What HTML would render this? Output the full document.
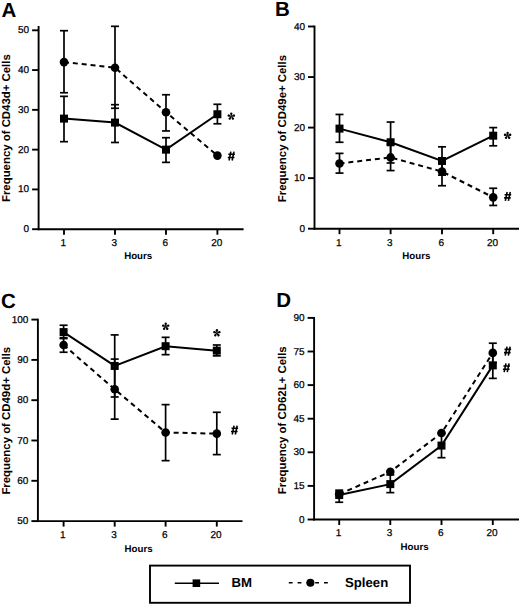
<!DOCTYPE html>
<html><head><meta charset="utf-8"><style>
html,body{margin:0;padding:0;background:#fff;}
svg{display:block;}
text{font-family:"Liberation Sans", sans-serif;fill:#000;text-rendering:geometricPrecision;}
</style></head><body>
<svg width="520" height="605" viewBox="0 0 520 605">
<defs>
<g id="armg"><path d="M-0.35 -0.3 L-1.2 -2.7 A1.2 1.2 0 0 1 1.2 -2.7 L0.35 -0.3 Z"/></g>
<g id="ast" fill="#000"><use href="#armg"/><use href="#armg" transform="rotate(72)"/><use href="#armg" transform="rotate(144)"/><use href="#armg" transform="rotate(216)"/><use href="#armg" transform="rotate(288)"/><circle r="0.5"/></g>
<g id="hash" stroke="#000" stroke-width="1.6" fill="none"><path d="M-0.45 -4.3 L-2.25 4.6 M2.65 -4.3 L0.85 4.6 M-3.0 -1.6 L3.6 -1.6 M-3.5 1.6 L3.1 1.6"/></g>
</defs>
<rect width="520" height="605" fill="#fff"/>
<text x="1.4" y="16.6" font-size="20.5" font-weight="bold">A</text>
<line x1="38.6" y1="26" x2="38.6" y2="230.14999999999998" stroke="#000" stroke-width="1.9"/>
<line x1="37.65" y1="229.2" x2="243.6" y2="229.2" stroke="#000" stroke-width="1.9"/>
<line x1="32.1" y1="229.20" x2="38.6" y2="229.20" stroke="#000" stroke-width="1.9"/>
<text x="29.1" y="232.20" font-size="10" text-anchor="end" stroke="#000" stroke-width="0.25">0</text>
<line x1="32.1" y1="189.42" x2="38.6" y2="189.42" stroke="#000" stroke-width="1.9"/>
<text x="29.1" y="192.42" font-size="10" text-anchor="end" stroke="#000" stroke-width="0.25">10</text>
<line x1="32.1" y1="149.64" x2="38.6" y2="149.64" stroke="#000" stroke-width="1.9"/>
<text x="29.1" y="152.64" font-size="10" text-anchor="end" stroke="#000" stroke-width="0.25">20</text>
<line x1="32.1" y1="109.86" x2="38.6" y2="109.86" stroke="#000" stroke-width="1.9"/>
<text x="29.1" y="112.86" font-size="10" text-anchor="end" stroke="#000" stroke-width="0.25">30</text>
<line x1="32.1" y1="70.08" x2="38.6" y2="70.08" stroke="#000" stroke-width="1.9"/>
<text x="29.1" y="73.08" font-size="10" text-anchor="end" stroke="#000" stroke-width="0.25">40</text>
<line x1="32.1" y1="30.30" x2="38.6" y2="30.30" stroke="#000" stroke-width="1.9"/>
<text x="29.1" y="33.30" font-size="10" text-anchor="end" stroke="#000" stroke-width="0.25">50</text>
<line x1="64" y1="229.2" x2="64" y2="234.7" stroke="#000" stroke-width="1.9"/>
<text x="63.3" y="246.0" font-size="10" text-anchor="middle" stroke="#000" stroke-width="0.25">1</text>
<line x1="115" y1="229.2" x2="115" y2="234.7" stroke="#000" stroke-width="1.9"/>
<text x="114.3" y="246.0" font-size="10" text-anchor="middle" stroke="#000" stroke-width="0.25">3</text>
<line x1="166" y1="229.2" x2="166" y2="234.7" stroke="#000" stroke-width="1.9"/>
<text x="165.3" y="246.0" font-size="10" text-anchor="middle" stroke="#000" stroke-width="0.25">6</text>
<line x1="217.4" y1="229.2" x2="217.4" y2="234.7" stroke="#000" stroke-width="1.9"/>
<text x="216.70000000000002" y="246.0" font-size="10" text-anchor="middle" stroke="#000" stroke-width="0.25">20</text>
<text x="138.2" y="259.1" font-size="9.7" font-weight="bold" text-anchor="middle">Hours</text>
<text transform="translate(9.9,128.15) rotate(-90)" font-size="11.4" font-weight="bold" text-anchor="middle">Frequency of CD43d+ Cells</text>
<polyline points="64.00,118.61 115.00,122.59 166.00,149.64 217.40,114.24" fill="none" stroke="#000" stroke-width="2.0"/>
<polyline points="64.00,62.12 115.00,67.69 166.00,112.25 217.40,155.61" fill="none" stroke="#000" stroke-width="2.0" stroke-dasharray="5,3.9"/>
<line x1="64" y1="96.33" x2="64" y2="141.68" stroke="#000" stroke-width="1.7"/>
<line x1="60.0" y1="96.33" x2="68.0" y2="96.33" stroke="#000" stroke-width="1.7"/>
<line x1="60.0" y1="141.68" x2="68.0" y2="141.68" stroke="#000" stroke-width="1.7"/>
<line x1="115" y1="104.69" x2="115" y2="142.48" stroke="#000" stroke-width="1.7"/>
<line x1="111.0" y1="104.69" x2="119.0" y2="104.69" stroke="#000" stroke-width="1.7"/>
<line x1="111.0" y1="142.48" x2="119.0" y2="142.48" stroke="#000" stroke-width="1.7"/>
<line x1="166" y1="137.71" x2="166" y2="162.37" stroke="#000" stroke-width="1.7"/>
<line x1="162.0" y1="137.71" x2="170.0" y2="137.71" stroke="#000" stroke-width="1.7"/>
<line x1="162.0" y1="162.37" x2="170.0" y2="162.37" stroke="#000" stroke-width="1.7"/>
<line x1="217.4" y1="104.29" x2="217.4" y2="123.78" stroke="#000" stroke-width="1.7"/>
<line x1="213.4" y1="104.29" x2="221.4" y2="104.29" stroke="#000" stroke-width="1.7"/>
<line x1="213.4" y1="123.78" x2="221.4" y2="123.78" stroke="#000" stroke-width="1.7"/>
<line x1="64" y1="30.70" x2="64" y2="92.75" stroke="#000" stroke-width="1.7"/>
<line x1="60.0" y1="30.70" x2="68.0" y2="30.70" stroke="#000" stroke-width="1.7"/>
<line x1="60.0" y1="92.75" x2="68.0" y2="92.75" stroke="#000" stroke-width="1.7"/>
<line x1="115" y1="26.32" x2="115" y2="108.27" stroke="#000" stroke-width="1.7"/>
<line x1="111.0" y1="26.32" x2="119.0" y2="26.32" stroke="#000" stroke-width="1.7"/>
<line x1="111.0" y1="108.27" x2="119.0" y2="108.27" stroke="#000" stroke-width="1.7"/>
<line x1="166" y1="94.74" x2="166" y2="130.94" stroke="#000" stroke-width="1.7"/>
<line x1="162.0" y1="94.74" x2="170.0" y2="94.74" stroke="#000" stroke-width="1.7"/>
<line x1="162.0" y1="130.94" x2="170.0" y2="130.94" stroke="#000" stroke-width="1.7"/>
<rect x="60.00" y="114.61" width="8.0" height="8.0" fill="#000"/>
<rect x="111.00" y="118.59" width="8.0" height="8.0" fill="#000"/>
<rect x="162.00" y="145.64" width="8.0" height="8.0" fill="#000"/>
<rect x="213.40" y="110.24" width="8.0" height="8.0" fill="#000"/>
<circle cx="64" cy="62.12" r="4.3" fill="#000"/>
<circle cx="115" cy="67.69" r="4.3" fill="#000"/>
<circle cx="166" cy="112.25" r="4.3" fill="#000"/>
<circle cx="217.4" cy="155.61" r="4.3" fill="#000"/>
<use href="#ast" x="231.3" y="116.4"/>
<use href="#hash" x="231.3" y="155.9"/>
<text x="275.1" y="15.8" font-size="20.5" font-weight="bold">B</text>
<line x1="314.5" y1="25.6" x2="314.5" y2="229.64999999999998" stroke="#000" stroke-width="1.9"/>
<line x1="313.55" y1="228.7" x2="519" y2="228.7" stroke="#000" stroke-width="1.9"/>
<line x1="308.0" y1="228.70" x2="314.5" y2="228.70" stroke="#000" stroke-width="1.9"/>
<text x="305.0" y="231.70" font-size="10" text-anchor="end" stroke="#000" stroke-width="0.25">0</text>
<line x1="308.0" y1="178.15" x2="314.5" y2="178.15" stroke="#000" stroke-width="1.9"/>
<text x="305.0" y="181.15" font-size="10" text-anchor="end" stroke="#000" stroke-width="0.25">10</text>
<line x1="308.0" y1="127.60" x2="314.5" y2="127.60" stroke="#000" stroke-width="1.9"/>
<text x="305.0" y="130.60" font-size="10" text-anchor="end" stroke="#000" stroke-width="0.25">20</text>
<line x1="308.0" y1="77.05" x2="314.5" y2="77.05" stroke="#000" stroke-width="1.9"/>
<text x="305.0" y="80.05" font-size="10" text-anchor="end" stroke="#000" stroke-width="0.25">30</text>
<line x1="308.0" y1="26.50" x2="314.5" y2="26.50" stroke="#000" stroke-width="1.9"/>
<text x="305.0" y="29.50" font-size="10" text-anchor="end" stroke="#000" stroke-width="0.25">40</text>
<line x1="339.5" y1="228.7" x2="339.5" y2="234.2" stroke="#000" stroke-width="1.9"/>
<text x="338.8" y="245.5" font-size="10" text-anchor="middle" stroke="#000" stroke-width="0.25">1</text>
<line x1="390.6" y1="228.7" x2="390.6" y2="234.2" stroke="#000" stroke-width="1.9"/>
<text x="389.90000000000003" y="245.5" font-size="10" text-anchor="middle" stroke="#000" stroke-width="0.25">3</text>
<line x1="442" y1="228.7" x2="442" y2="234.2" stroke="#000" stroke-width="1.9"/>
<text x="441.3" y="245.5" font-size="10" text-anchor="middle" stroke="#000" stroke-width="0.25">6</text>
<line x1="493.2" y1="228.7" x2="493.2" y2="234.2" stroke="#000" stroke-width="1.9"/>
<text x="492.5" y="245.5" font-size="10" text-anchor="middle" stroke="#000" stroke-width="0.25">20</text>
<text x="416.3" y="258.9" font-size="9.7" font-weight="bold" text-anchor="middle">Hours</text>
<text transform="translate(286.4,128.55) rotate(-90)" font-size="11.4" font-weight="bold" text-anchor="middle">Frequency of CD49e+ Cells</text>
<polyline points="339.50,128.61 390.60,142.26 442.00,160.96 493.20,135.69" fill="none" stroke="#000" stroke-width="2.0"/>
<polyline points="339.50,163.49 390.60,157.42 442.00,171.58 493.20,197.36" fill="none" stroke="#000" stroke-width="2.0" stroke-dasharray="5,3.9"/>
<line x1="339.5" y1="114.46" x2="339.5" y2="142.26" stroke="#000" stroke-width="1.7"/>
<line x1="335.5" y1="114.46" x2="343.5" y2="114.46" stroke="#000" stroke-width="1.7"/>
<line x1="335.5" y1="142.26" x2="343.5" y2="142.26" stroke="#000" stroke-width="1.7"/>
<line x1="390.6" y1="122.04" x2="390.6" y2="162.98" stroke="#000" stroke-width="1.7"/>
<line x1="386.6" y1="122.04" x2="394.6" y2="122.04" stroke="#000" stroke-width="1.7"/>
<line x1="386.6" y1="162.98" x2="394.6" y2="162.98" stroke="#000" stroke-width="1.7"/>
<line x1="442" y1="146.81" x2="442" y2="175.12" stroke="#000" stroke-width="1.7"/>
<line x1="438.0" y1="146.81" x2="446.0" y2="146.81" stroke="#000" stroke-width="1.7"/>
<line x1="438.0" y1="175.12" x2="446.0" y2="175.12" stroke="#000" stroke-width="1.7"/>
<line x1="493.2" y1="127.60" x2="493.2" y2="145.80" stroke="#000" stroke-width="1.7"/>
<line x1="489.2" y1="127.60" x2="497.2" y2="127.60" stroke="#000" stroke-width="1.7"/>
<line x1="489.2" y1="145.80" x2="497.2" y2="145.80" stroke="#000" stroke-width="1.7"/>
<line x1="339.5" y1="153.38" x2="339.5" y2="173.09" stroke="#000" stroke-width="1.7"/>
<line x1="335.5" y1="153.38" x2="343.5" y2="153.38" stroke="#000" stroke-width="1.7"/>
<line x1="335.5" y1="173.09" x2="343.5" y2="173.09" stroke="#000" stroke-width="1.7"/>
<line x1="390.6" y1="144.28" x2="390.6" y2="170.57" stroke="#000" stroke-width="1.7"/>
<line x1="386.6" y1="144.28" x2="394.6" y2="144.28" stroke="#000" stroke-width="1.7"/>
<line x1="386.6" y1="170.57" x2="394.6" y2="170.57" stroke="#000" stroke-width="1.7"/>
<line x1="442" y1="157.93" x2="442" y2="185.73" stroke="#000" stroke-width="1.7"/>
<line x1="438.0" y1="157.93" x2="446.0" y2="157.93" stroke="#000" stroke-width="1.7"/>
<line x1="438.0" y1="185.73" x2="446.0" y2="185.73" stroke="#000" stroke-width="1.7"/>
<line x1="493.2" y1="188.26" x2="493.2" y2="205.45" stroke="#000" stroke-width="1.7"/>
<line x1="489.2" y1="188.26" x2="497.2" y2="188.26" stroke="#000" stroke-width="1.7"/>
<line x1="489.2" y1="205.45" x2="497.2" y2="205.45" stroke="#000" stroke-width="1.7"/>
<rect x="335.50" y="124.61" width="8.0" height="8.0" fill="#000"/>
<rect x="386.60" y="138.26" width="8.0" height="8.0" fill="#000"/>
<rect x="438.00" y="156.96" width="8.0" height="8.0" fill="#000"/>
<rect x="489.20" y="131.69" width="8.0" height="8.0" fill="#000"/>
<circle cx="339.5" cy="163.49" r="4.3" fill="#000"/>
<circle cx="390.6" cy="157.42" r="4.3" fill="#000"/>
<circle cx="442" cy="171.58" r="4.3" fill="#000"/>
<circle cx="493.2" cy="197.36" r="4.3" fill="#000"/>
<use href="#ast" x="507.6" y="135.6"/>
<use href="#hash" x="507.6" y="196.3"/>
<text x="1.0" y="307.8" font-size="20.5" font-weight="bold">C</text>
<line x1="37.9" y1="318.7" x2="37.9" y2="522.0500000000001" stroke="#000" stroke-width="1.9"/>
<line x1="36.949999999999996" y1="521.1" x2="242.5" y2="521.1" stroke="#000" stroke-width="1.9"/>
<line x1="31.4" y1="521.10" x2="37.9" y2="521.10" stroke="#000" stroke-width="1.9"/>
<text x="28.4" y="524.10" font-size="10" text-anchor="end" stroke="#000" stroke-width="0.25">50</text>
<line x1="31.4" y1="480.80" x2="37.9" y2="480.80" stroke="#000" stroke-width="1.9"/>
<text x="28.4" y="483.80" font-size="10" text-anchor="end" stroke="#000" stroke-width="0.25">60</text>
<line x1="31.4" y1="440.50" x2="37.9" y2="440.50" stroke="#000" stroke-width="1.9"/>
<text x="28.4" y="443.50" font-size="10" text-anchor="end" stroke="#000" stroke-width="0.25">70</text>
<line x1="31.4" y1="400.20" x2="37.9" y2="400.20" stroke="#000" stroke-width="1.9"/>
<text x="28.4" y="403.20" font-size="10" text-anchor="end" stroke="#000" stroke-width="0.25">80</text>
<line x1="31.4" y1="359.90" x2="37.9" y2="359.90" stroke="#000" stroke-width="1.9"/>
<text x="28.4" y="362.90" font-size="10" text-anchor="end" stroke="#000" stroke-width="0.25">90</text>
<line x1="31.4" y1="319.60" x2="37.9" y2="319.60" stroke="#000" stroke-width="1.9"/>
<text x="28.4" y="322.60" font-size="10" text-anchor="end" stroke="#000" stroke-width="0.25">100</text>
<line x1="63.6" y1="521.1" x2="63.6" y2="526.6" stroke="#000" stroke-width="1.9"/>
<text x="62.9" y="537.9" font-size="10" text-anchor="middle" stroke="#000" stroke-width="0.25">1</text>
<line x1="114.7" y1="521.1" x2="114.7" y2="526.6" stroke="#000" stroke-width="1.9"/>
<text x="114.0" y="537.9" font-size="10" text-anchor="middle" stroke="#000" stroke-width="0.25">3</text>
<line x1="165.6" y1="521.1" x2="165.6" y2="526.6" stroke="#000" stroke-width="1.9"/>
<text x="164.9" y="537.9" font-size="10" text-anchor="middle" stroke="#000" stroke-width="0.25">6</text>
<line x1="216.8" y1="521.1" x2="216.8" y2="526.6" stroke="#000" stroke-width="1.9"/>
<text x="216.10000000000002" y="537.9" font-size="10" text-anchor="middle" stroke="#000" stroke-width="0.25">20</text>
<text x="138.6" y="551.6" font-size="9.7" font-weight="bold" text-anchor="middle">Hours</text>
<text transform="translate(9.9,420.7) rotate(-90)" font-size="11.4" font-weight="bold" text-anchor="middle">Frequency of CD49d+ Cells</text>
<polyline points="63.60,332.09 114.70,365.95 165.60,346.20 216.80,350.63" fill="none" stroke="#000" stroke-width="2.0"/>
<polyline points="63.60,344.99 114.70,389.32 165.60,432.44 216.80,433.65" fill="none" stroke="#000" stroke-width="2.0" stroke-dasharray="5,3.9"/>
<line x1="63.6" y1="325.24" x2="63.6" y2="338.54" stroke="#000" stroke-width="1.7"/>
<line x1="59.6" y1="325.24" x2="67.6" y2="325.24" stroke="#000" stroke-width="1.7"/>
<line x1="59.6" y1="338.54" x2="67.6" y2="338.54" stroke="#000" stroke-width="1.7"/>
<line x1="114.7" y1="334.91" x2="114.7" y2="396.98" stroke="#000" stroke-width="1.7"/>
<line x1="110.7" y1="334.91" x2="118.7" y2="334.91" stroke="#000" stroke-width="1.7"/>
<line x1="110.7" y1="396.98" x2="118.7" y2="396.98" stroke="#000" stroke-width="1.7"/>
<line x1="165.6" y1="337.33" x2="165.6" y2="354.66" stroke="#000" stroke-width="1.7"/>
<line x1="161.6" y1="337.33" x2="169.6" y2="337.33" stroke="#000" stroke-width="1.7"/>
<line x1="161.6" y1="354.66" x2="169.6" y2="354.66" stroke="#000" stroke-width="1.7"/>
<line x1="216.8" y1="344.99" x2="216.8" y2="355.87" stroke="#000" stroke-width="1.7"/>
<line x1="212.8" y1="344.99" x2="220.8" y2="344.99" stroke="#000" stroke-width="1.7"/>
<line x1="212.8" y1="355.87" x2="220.8" y2="355.87" stroke="#000" stroke-width="1.7"/>
<line x1="63.6" y1="337.74" x2="63.6" y2="352.24" stroke="#000" stroke-width="1.7"/>
<line x1="59.6" y1="337.74" x2="67.6" y2="337.74" stroke="#000" stroke-width="1.7"/>
<line x1="59.6" y1="352.24" x2="67.6" y2="352.24" stroke="#000" stroke-width="1.7"/>
<line x1="114.7" y1="359.09" x2="114.7" y2="419.14" stroke="#000" stroke-width="1.7"/>
<line x1="110.7" y1="359.09" x2="118.7" y2="359.09" stroke="#000" stroke-width="1.7"/>
<line x1="110.7" y1="419.14" x2="118.7" y2="419.14" stroke="#000" stroke-width="1.7"/>
<line x1="165.6" y1="404.63" x2="165.6" y2="460.65" stroke="#000" stroke-width="1.7"/>
<line x1="161.6" y1="404.63" x2="169.6" y2="404.63" stroke="#000" stroke-width="1.7"/>
<line x1="161.6" y1="460.65" x2="169.6" y2="460.65" stroke="#000" stroke-width="1.7"/>
<line x1="216.8" y1="412.29" x2="216.8" y2="454.61" stroke="#000" stroke-width="1.7"/>
<line x1="212.8" y1="412.29" x2="220.8" y2="412.29" stroke="#000" stroke-width="1.7"/>
<line x1="212.8" y1="454.61" x2="220.8" y2="454.61" stroke="#000" stroke-width="1.7"/>
<rect x="59.60" y="328.09" width="8.0" height="8.0" fill="#000"/>
<rect x="110.70" y="361.95" width="8.0" height="8.0" fill="#000"/>
<rect x="161.60" y="342.20" width="8.0" height="8.0" fill="#000"/>
<rect x="212.80" y="346.63" width="8.0" height="8.0" fill="#000"/>
<circle cx="63.6" cy="344.99" r="4.3" fill="#000"/>
<circle cx="114.7" cy="389.32" r="4.3" fill="#000"/>
<circle cx="165.6" cy="432.44" r="4.3" fill="#000"/>
<circle cx="216.8" cy="433.65" r="4.3" fill="#000"/>
<use href="#ast" x="165.7" y="326.5"/>
<use href="#ast" x="216.9" y="333.0"/>
<use href="#hash" x="234.5" y="429.9"/>
<text x="276.2" y="307.3" font-size="20.5" font-weight="bold">D</text>
<line x1="314.1" y1="317.0" x2="314.1" y2="520.45" stroke="#000" stroke-width="1.9"/>
<line x1="313.15000000000003" y1="519.5" x2="519" y2="519.5" stroke="#000" stroke-width="1.9"/>
<line x1="307.6" y1="519.50" x2="314.1" y2="519.50" stroke="#000" stroke-width="1.9"/>
<text x="304.6" y="522.50" font-size="10" text-anchor="end" stroke="#000" stroke-width="0.25">0</text>
<line x1="307.6" y1="485.90" x2="314.1" y2="485.90" stroke="#000" stroke-width="1.9"/>
<text x="304.6" y="488.90" font-size="10" text-anchor="end" stroke="#000" stroke-width="0.25">15</text>
<line x1="307.6" y1="452.30" x2="314.1" y2="452.30" stroke="#000" stroke-width="1.9"/>
<text x="304.6" y="455.30" font-size="10" text-anchor="end" stroke="#000" stroke-width="0.25">30</text>
<line x1="307.6" y1="418.70" x2="314.1" y2="418.70" stroke="#000" stroke-width="1.9"/>
<text x="304.6" y="421.70" font-size="10" text-anchor="end" stroke="#000" stroke-width="0.25">45</text>
<line x1="307.6" y1="385.10" x2="314.1" y2="385.10" stroke="#000" stroke-width="1.9"/>
<text x="304.6" y="388.10" font-size="10" text-anchor="end" stroke="#000" stroke-width="0.25">60</text>
<line x1="307.6" y1="351.50" x2="314.1" y2="351.50" stroke="#000" stroke-width="1.9"/>
<text x="304.6" y="354.50" font-size="10" text-anchor="end" stroke="#000" stroke-width="0.25">75</text>
<line x1="307.6" y1="317.90" x2="314.1" y2="317.90" stroke="#000" stroke-width="1.9"/>
<text x="304.6" y="320.90" font-size="10" text-anchor="end" stroke="#000" stroke-width="0.25">90</text>
<line x1="339.2" y1="519.5" x2="339.2" y2="525.0" stroke="#000" stroke-width="1.9"/>
<text x="338.5" y="536.3" font-size="10" text-anchor="middle" stroke="#000" stroke-width="0.25">1</text>
<line x1="390.3" y1="519.5" x2="390.3" y2="525.0" stroke="#000" stroke-width="1.9"/>
<text x="389.6" y="536.3" font-size="10" text-anchor="middle" stroke="#000" stroke-width="0.25">3</text>
<line x1="441.5" y1="519.5" x2="441.5" y2="525.0" stroke="#000" stroke-width="1.9"/>
<text x="440.8" y="536.3" font-size="10" text-anchor="middle" stroke="#000" stroke-width="0.25">6</text>
<line x1="492.8" y1="519.5" x2="492.8" y2="525.0" stroke="#000" stroke-width="1.9"/>
<text x="492.1" y="536.3" font-size="10" text-anchor="middle" stroke="#000" stroke-width="0.25">20</text>
<text x="414.6" y="550.1" font-size="9.7" font-weight="bold" text-anchor="middle">Hours</text>
<text transform="translate(286.0,420.25) rotate(-90)" font-size="11.4" font-weight="bold" text-anchor="middle">Frequency of CD62L+ Cells</text>
<polyline points="339.20,495.08 390.30,484.11 441.50,445.58 492.80,365.39" fill="none" stroke="#000" stroke-width="2.0"/>
<polyline points="339.20,494.19 390.30,471.79 441.50,433.04 492.80,352.84" fill="none" stroke="#000" stroke-width="2.0" stroke-dasharray="5,3.9"/>
<line x1="339.2" y1="490.16" x2="339.2" y2="502.25" stroke="#000" stroke-width="1.7"/>
<line x1="335.2" y1="490.16" x2="343.2" y2="490.16" stroke="#000" stroke-width="1.7"/>
<line x1="335.2" y1="502.25" x2="343.2" y2="502.25" stroke="#000" stroke-width="1.7"/>
<line x1="390.3" y1="474.92" x2="390.3" y2="492.62" stroke="#000" stroke-width="1.7"/>
<line x1="386.3" y1="474.92" x2="394.3" y2="474.92" stroke="#000" stroke-width="1.7"/>
<line x1="386.3" y1="492.62" x2="394.3" y2="492.62" stroke="#000" stroke-width="1.7"/>
<line x1="441.5" y1="433.04" x2="441.5" y2="457.68" stroke="#000" stroke-width="1.7"/>
<line x1="437.5" y1="433.04" x2="445.5" y2="433.04" stroke="#000" stroke-width="1.7"/>
<line x1="437.5" y1="457.68" x2="445.5" y2="457.68" stroke="#000" stroke-width="1.7"/>
<line x1="492.8" y1="353.74" x2="492.8" y2="378.38" stroke="#000" stroke-width="1.7"/>
<line x1="488.8" y1="353.74" x2="496.8" y2="353.74" stroke="#000" stroke-width="1.7"/>
<line x1="488.8" y1="378.38" x2="496.8" y2="378.38" stroke="#000" stroke-width="1.7"/>
<line x1="492.8" y1="343.21" x2="492.8" y2="362.70" stroke="#000" stroke-width="1.7"/>
<line x1="488.8" y1="343.21" x2="496.8" y2="343.21" stroke="#000" stroke-width="1.7"/>
<line x1="488.8" y1="362.70" x2="496.8" y2="362.70" stroke="#000" stroke-width="1.7"/>
<rect x="335.20" y="491.08" width="8.0" height="8.0" fill="#000"/>
<rect x="386.30" y="480.11" width="8.0" height="8.0" fill="#000"/>
<rect x="437.50" y="441.58" width="8.0" height="8.0" fill="#000"/>
<rect x="488.80" y="361.39" width="8.0" height="8.0" fill="#000"/>
<circle cx="339.2" cy="494.19" r="4.3" fill="#000"/>
<circle cx="390.3" cy="471.79" r="4.3" fill="#000"/>
<circle cx="441.5" cy="433.04" r="4.3" fill="#000"/>
<circle cx="492.8" cy="352.84" r="4.3" fill="#000"/>
<use href="#hash" x="507.5" y="351"/>
<use href="#hash" x="506.4" y="367.6"/>
<rect x="150" y="565.6" width="260" height="37.2" fill="none" stroke="#000" stroke-width="1.9"/>
<line x1="174.8" y1="583.3" x2="219" y2="583.3" stroke="#000" stroke-width="1.6"/>
<rect x="192.6" y="579.4" width="7.6" height="7.6" fill="#000"/>
<text x="231.4" y="587.4" font-size="13.2" font-weight="bold">BM</text>
<line x1="288.8" y1="582.8" x2="329" y2="582.8" stroke="#000" stroke-width="1.6" stroke-dasharray="3.8,5"/>
<circle cx="310.4" cy="582.8" r="4" fill="#000"/>
<text x="345" y="587.4" font-size="13.2" font-weight="bold">Spleen</text>
</svg>
</body></html>
